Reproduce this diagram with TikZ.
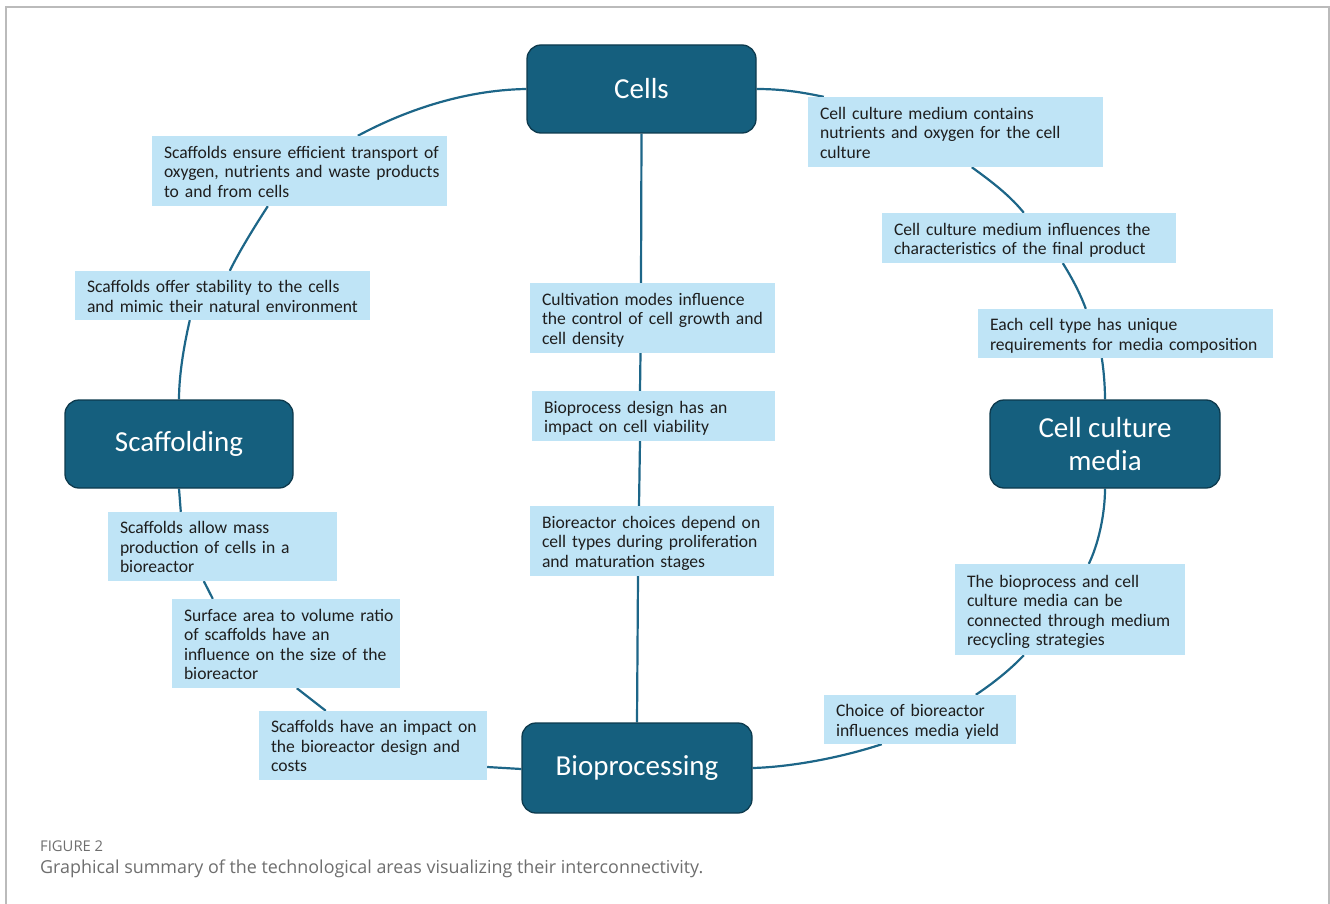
\documentclass[tikz,border=0pt]{standalone}
\usepackage{fontspec}
\setmainfont{Carlito}
\newfontfamily\boxfont{Carlito}[WordSpace=0.6]
\newfontfamily\capfont{Open Sans}
\usetikzlibrary{backgrounds}
\definecolor{mainfill}{HTML}{155F7E}
\definecolor{mainborder}{HTML}{0D3A4D}
\definecolor{lightfill}{HTML}{BFE4F6}
\definecolor{linecol}{HTML}{1D6688}
\definecolor{textcol}{HTML}{1E1E1E}
\definecolor{framecol}{HTML}{BBBBBB}
\definecolor{capcol}{HTML}{6E6E6E}
\renewcommand\arraystretch{1}
\newcommand\boxlines[1]{\raisebox{0pt}[\dimexpr\height+6pt\relax][\depth]{\begin{tabular}{@{}l@{}}#1\end{tabular}}}
\tikzset{
  mainbox/.style={draw=mainborder, line width=1.3pt, fill=mainfill, rounded corners=14pt,
    text=white, font=\fontsize{29}{33}\selectfont, align=center, inner sep=0pt},
  litebox/.style={fill=lightfill, text=textcol, font=\boxfont\fontsize{17.6}{19.5}\selectfont,
    align=left, inner xsep=12pt, inner ysep=0pt},
  link/.style={draw=linecol, line width=2.2pt},
}
\begin{document}
\begin{tikzpicture}[x=1pt,y=-1pt]
\useasboundingbox (0,0) rectangle (1330,904);
\draw[framecol, line width=1.5pt] (6,904) -- (6,7) -- (1329,7) -- (1329,904);

% main areas
\node[mainbox, minimum width=229pt, minimum height=88pt] (cells) at (641.5,89) {Cells};
\node[mainbox, minimum width=228pt, minimum height=88pt] (scaf) at (179,444) {Scaffolding};
\node[mainbox, minimum width=230pt, minimum height=88pt] (ccm) at (1105,444) {Cell culture\\media};
\node[mainbox, minimum width=230pt, minimum height=90pt] (bio) at (637,768) {Bioprocessing};

% scaffolding side
\node[litebox, text width=271pt, minimum height=70pt] (s1) at (299.5,171)
  {\boxlines{Scaffolds ensure efficient transport of\\oxygen, nutrients and waste products\\to and from cells}};
\node[litebox, text width=271pt, minimum height=49pt] (s2) at (222.5,295.5)
  {\boxlines{Scaffolds offer stability to the cells\\and mimic their natural environment}};
\node[litebox, text width=205pt, minimum height=69pt] (s3) at (222.5,546.5)
  {\boxlines{Scaffolds allow mass\\production of cells in a\\bioreactor}};
\node[litebox, text width=204pt, minimum height=89pt] (s4) at (286,643.5)
  {\boxlines{Surface area to volume ratio\\of scaffolds have an\\influence on the size of the\\bioreactor}};
\node[litebox, text width=204pt, minimum height=69pt] (s5) at (373,745.5)
  {\boxlines{Scaffolds have an impact on\\the bioreactor design and\\costs}};

% media side
\node[litebox, text width=271pt, minimum height=70pt] (m1) at (955.5,132)
  {\boxlines{Cell culture medium contains\\nutrients and oxygen for the cell\\culture}};
\node[litebox, text width=270pt, minimum height=50pt] (m2) at (1029,238)
  {\boxlines{Cell culture medium influences the\\characteristics of the final product}};
\node[litebox, text width=271pt, minimum height=49pt] (m3) at (1125.5,333.5)
  {\boxlines{Each cell type has unique\\requirements for media composition}};
\node[litebox, text width=206pt, minimum height=91pt] (m4) at (1070,609.5)
  {\boxlines{The bioprocess and cell\\culture media can be\\connected through medium\\recycling strategies}};
\node[litebox, text width=168pt, minimum height=49pt] (m5) at (920,719.5)
  {\boxlines{Choice of bioreactor\\influences media yield}};

% bioprocess column
\node[litebox, text width=221pt, minimum height=70pt] (b1) at (652.5,318)
  {\boxlines{Cultivation modes influence\\the control of cell growth and\\cell density}};
\node[litebox, text width=219pt, minimum height=50pt] (b2) at (653.5,416)
  {\boxlines{Bioprocess design has an\\impact on cell viability}};
\node[litebox, text width=220pt, minimum height=70pt] (b3) at (652,541)
  {\boxlines{Bioreactor choices depend on\\cell types during proliferation\\and maturation stages}};

% caption
\node[anchor=west, inner sep=0pt, text=capcol, font=\capfont\fontsize{14.8}{16}\selectfont] (figlabel) at (40,846) {FIGURE 2};
\node[anchor=west, inner sep=0pt, text=capcol, font=\capfont\fontsize{17.9}{20}\selectfont] (caption) at (40,869)
  {Graphical summary of the technological areas visualizing their interconnectivity.};

\begin{scope}[on background layer]
% left arc
\draw[link] (cells.west) .. controls (462,90) and (402,112) .. ([xshift=206pt]s1.north west);
\draw[link] ([xshift=116pt]s1.south west) .. controls (255,226) and (240,250) .. ([xshift=155pt]s2.north west);
\draw[link] ([xshift=115pt]s2.south west) .. controls (184,345) and (179,375) .. (scaf.north);
\draw[link] (scaf.south) -- ([xshift=73pt]s3.north west);
\draw[link] ([xshift=96pt]s3.south west) -- ([xshift=41pt]s4.north west);
\draw[link] ([xshift=125pt]s4.south west) -- ([xshift=67pt]s5.north west);
\draw[link] ([yshift=-21.5pt]s5.east) -- ([yshift=-1pt]bio.west);
% right arc
\draw[link] (cells.east) .. controls (785,89) and (805,93) .. ([xshift=16pt]m1.north west);
\draw[link] ([xshift=164pt]m1.south west) .. controls (985,177) and (1008,193) .. ([xshift=142pt]m2.north west);
\draw[link] ([xshift=181pt]m2.south west) .. controls (1072,278) and (1080,293) .. ([xshift=108pt]m3.north west);
\draw[link] ([xshift=124pt]m3.south west) .. controls (1104,372) and (1105,388) .. (ccm.north);
\draw[link] (ccm.south) .. controls (1105,515) and (1098,545) .. ([xshift=134pt]m4.north west);
\draw[link] ([xshift=69pt]m4.south west) .. controls (1010,670) and (992,684) .. ([xshift=152pt]m5.north west);
\draw[link] ([xshift=58pt]m5.south west) .. controls (840,758) and (790,767) .. (bio.east);
% centre column
\draw[link] (cells.south) -- ([xshift=-11.5pt]b1.north);
\draw[link] ([xshift=-12pt]b1.south) -- ([xshift=-13.5pt]b2.north);
\draw[link] ([xshift=-13.5pt]b2.south) -- ([xshift=-13pt]b3.north);
\draw[link] ([xshift=-14pt]b3.south) -- (bio.north);
\end{scope}
\end{tikzpicture}
\end{document}
